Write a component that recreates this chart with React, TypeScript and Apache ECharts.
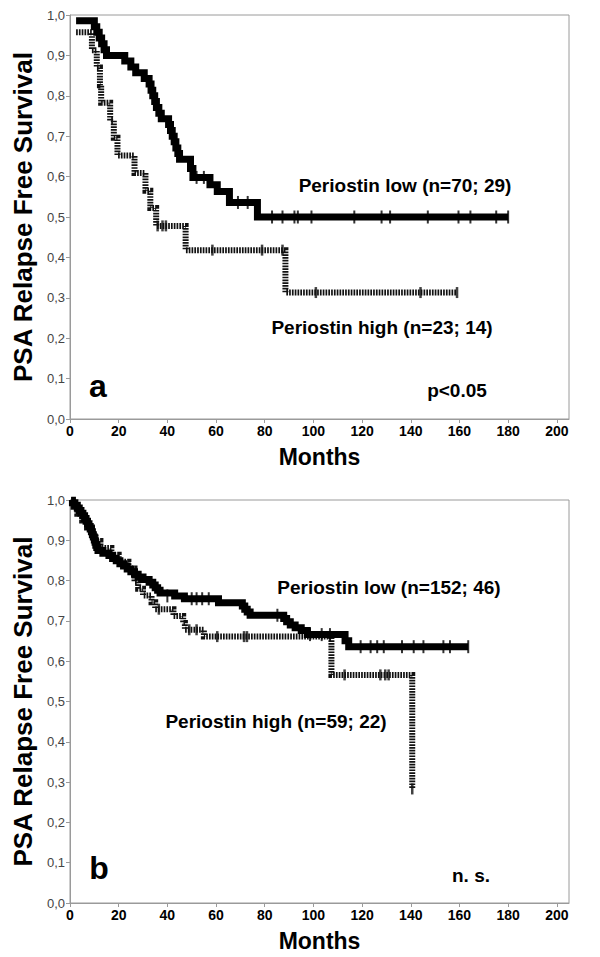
import React, { useEffect, useRef } from "react";
import * as echarts from "echarts";

// ---------- Panel a ----------
const lowA_t = [2.5, 10, 11, 12, 13, 14, 15, 22.5, 25, 27, 30.5, 32.5, 33.3, 34, 34.8, 35.5, 36.5, 37.5, 40.5, 41.3, 42, 42.8, 43.5, 44.3, 45, 49.5, 50.5, 57.5, 60.5, 65.5, 77, 180];
const lowA_s = [0.986, 0.971, 0.957, 0.943, 0.929, 0.914, 0.9, 0.886, 0.871, 0.857, 0.843, 0.829, 0.814, 0.8, 0.786, 0.771, 0.757, 0.743, 0.729, 0.714, 0.7, 0.686, 0.671, 0.657, 0.643, 0.62, 0.598, 0.58, 0.563, 0.536, 0.5, 0.5];
const lowA_cens_t = [52, 55, 69, 73, 83, 87.3, 92.2, 93.6, 99.2, 116.8, 128, 131.5, 147, 159.6, 164.5, 175.1, 180];
const lowA_cens_s = [0.598, 0.598, 0.536, 0.536, 0.5, 0.5, 0.5, 0.5, 0.5, 0.5, 0.5, 0.5, 0.5, 0.5, 0.5, 0.5, 0.5];

const highA_t = [2.5, 9, 11, 12.3, 12.8, 16.5, 18, 19.5, 26.5, 31, 33, 35.4, 47.5, 88.5, 159];
const highA_s = [0.957, 0.913, 0.87, 0.826, 0.783, 0.739, 0.696, 0.652, 0.609, 0.565, 0.522, 0.478, 0.418, 0.313, 0.313];
const highA_cens_t = [36, 38, 39.4, 58.5, 78.9, 87.3, 101, 144, 159];
const highA_cens_s = [0.478, 0.478, 0.478, 0.418, 0.418, 0.418, 0.313, 0.313, 0.313];

// ---------- Panel b ----------
const lowB_t = [0.5, 1, 2, 3, 3.8, 4.5, 5.3, 6, 6.6, 7.2, 7.8, 8.3, 8.8, 9.2, 9.6, 10, 10.3, 10.6, 11, 11.5, 13.5, 16, 17.5, 19, 20.5, 22, 23.5, 25, 26.5, 28, 30, 32.5, 34, 35, 36, 37, 43, 47, 61, 70.8, 71.8, 72.8, 74, 87.8, 89, 90.5, 92.5, 95, 97.5, 113, 114.5, 163.6];
const lowB_s = [1.0, 0.993, 0.987, 0.98, 0.974, 0.967, 0.961, 0.954, 0.947, 0.941, 0.934, 0.928, 0.921, 0.914, 0.908, 0.901, 0.895, 0.888, 0.882, 0.875, 0.868, 0.862, 0.855, 0.849, 0.842, 0.836, 0.829, 0.822, 0.816, 0.809, 0.803, 0.796, 0.789, 0.782, 0.776, 0.769, 0.762, 0.755, 0.745, 0.737, 0.729, 0.722, 0.714, 0.706, 0.698, 0.69, 0.683, 0.676, 0.666, 0.651, 0.636, 0.636];
const lowB_cens_t = [40, 50, 52, 54.3, 57, 85.2, 98.6, 103.4, 106.8, 119.4, 123.5, 126.2, 128.9, 136.4, 141.2, 145.2, 153.4, 156.1, 163.6];
const lowB_cens_s = [0.762, 0.755, 0.755, 0.755, 0.755, 0.714, 0.666, 0.666, 0.666, 0.636, 0.636, 0.636, 0.636, 0.636, 0.636, 0.636, 0.636, 0.636, 0.636];

const highB_t = [0.5, 1.5, 3, 5, 7, 9, 10.5, 12.5, 17, 20, 24, 26.5, 28, 30, 33.5, 35, 42.5, 46.5, 47.2, 55, 107.4, 140.6];
const highB_s = [1.0, 0.983, 0.966, 0.949, 0.932, 0.915, 0.898, 0.881, 0.864, 0.847, 0.83, 0.797, 0.78, 0.763, 0.746, 0.729, 0.712, 0.695, 0.678, 0.661, 0.566, 0.283];
const highB_cens_t = [36.5, 49, 52, 60.5, 71.5, 72.7, 112.8, 127.5, 129.5, 130.9, 140.6];
const highB_cens_s = [0.729, 0.678, 0.678, 0.661, 0.661, 0.661, 0.566, 0.566, 0.566, 0.566, 0.283];

const xTickInterval = 20;
const yTickInterval = 0.1;
const xMax = 205;

const FONT = '"Liberation Sans", Arial, sans-serif';

const pairs = (t: number[], s: number[]) => t.map((v, i) => [v, s[i]]);

export default function App() {
  const ref = useRef<HTMLDivElement>(null);
  useEffect(() => {
    if (!ref.current) return;
    const chart = echarts.init(ref.current, null, { renderer: "svg" });
    const frame = "#9a9a9a";

    const xAxis = (gi: number) => ({
      type: "value",
      gridIndex: gi,
      min: 0,
      max: xMax,
      interval: xTickInterval,
      name: "Months",
      nameLocation: "middle",
      nameGap: 26,
      nameTextStyle: { fontFamily: FONT, fontWeight: "bold", fontSize: 23, color: "#000" },
      axisLine: { show: true, lineStyle: { color: frame, width: 1 } },
      axisTick: { show: true, length: 4, lineStyle: { color: frame } },
      axisLabel: {
        fontFamily: FONT,
        fontWeight: "bold",
        fontSize: 14,
        color: "#000",
        margin: 5,
        showMaxLabel: false,
        formatter: (v: number) => (v % xTickInterval === 0 ? String(v) : ""),
      },
      splitLine: { show: false },
    });

    const yAxis = (gi: number) => ({
      type: "value",
      gridIndex: gi,
      min: 0,
      max: 1,
      interval: yTickInterval,
      name: "PSA Relapse Free Survival",
      nameLocation: "middle",
      nameGap: 30,
      nameTextStyle: { fontFamily: FONT, fontWeight: "bold", fontSize: 26, color: "#000" },
      axisLine: { show: true, lineStyle: { color: frame, width: 1 } },
      axisTick: { show: true, length: 4, lineStyle: { color: frame } },
      axisLabel: {
        fontFamily: FONT,
        fontSize: 13,
        color: "#444",
        margin: 5,
        formatter: (v: number) => v.toFixed(1).replace(".", ","),
      },
      splitLine: { show: false },
    });

    const greyLine = (gi: number, data: number[][]) => ({
      type: "line",
      xAxisIndex: gi,
      yAxisIndex: gi,
      data,
      step: "end",
      symbol: "none",
      showSymbol: false,
      z: 2,
      lineStyle: { color: "#111", width: 6, type: [1.7, 1.1], cap: "butt", join: "miter" },
    });
    const blackLine = (gi: number, data: number[][]) => ({
      type: "line",
      xAxisIndex: gi,
      yAxisIndex: gi,
      data,
      step: "end",
      symbol: "none",
      showSymbol: false,
      z: 3,
      lineStyle: { color: "#000", width: 7, type: "solid", cap: "butt", join: "miter" },
    });
    const cens = (gi: number, data: number[][], color: string, size: number[]) => ({
      type: "scatter",
      xAxisIndex: gi,
      yAxisIndex: gi,
      data,
      symbol: "rect",
      symbolSize: size,
      z: 4,
      itemStyle: { color },
    });

    const txt = (text: string, x: number, y: number, size: number) => ({
      type: "text",
      x,
      y,
      z: 10,
      style: {
        text,
        fill: "#000",
        font: `bold ${size}px "Liberation Sans", Arial, sans-serif`,
        align: "center",
        verticalAlign: "middle",
        textAlign: "center",
        textVerticalAlign: "middle",
      },
    });

    chart.setOption({
      animation: false,
      backgroundColor: "#fff",
      grid: [
        { left: 70, right: 31, top: 15, height: 404, show: true, borderColor: frame, borderWidth: 1, backgroundColor: "transparent" },
        { left: 70, right: 31, top: 500, height: 403, show: true, borderColor: frame, borderWidth: 1, backgroundColor: "transparent" },
      ],
      xAxis: [xAxis(0), xAxis(1)],
      yAxis: [yAxis(0), yAxis(1)],
      series: [
        greyLine(0, pairs(highA_t, highA_s)),
        blackLine(0, pairs(lowA_t, lowA_s)),
        cens(0, pairs(highA_cens_t, highA_cens_s), "#111", [2.5, 11]),
        cens(0, pairs(lowA_cens_t, lowA_cens_s), "#000", [2, 13]),
        greyLine(1, pairs(highB_t, highB_s)),
        blackLine(1, pairs(lowB_t, lowB_s)),
        cens(1, pairs(highB_cens_t, highB_cens_s), "#111", [2.5, 11]),
        cens(1, pairs(lowB_cens_t, lowB_cens_s), "#000", [2, 13]),
      ],
      graphic: [
        txt("Periostin low (n=70; 29)", 405, 185, 19),
        txt("Periostin high (n=23; 14)", 382, 327, 19),
        txt("a", 98, 386, 32),
        txt("p<0.05", 457, 390, 19),
        txt("Periostin low (n=152; 46)", 389, 587, 19),
        txt("Periostin high (n=59; 22)", 276, 721, 19),
        txt("b", 99, 868, 32),
        txt("n. s.", 471, 875, 19),
      ],
    });
    return () => chart.dispose();
  }, []);
  return <div ref={ref} style={{ position: "fixed", left: 0, top: 0, width: 600, height: 957 }} />;
}
